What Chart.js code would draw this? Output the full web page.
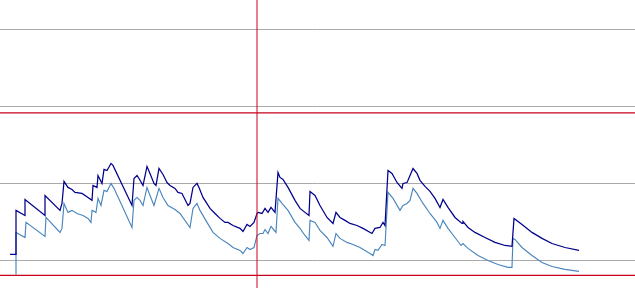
<!DOCTYPE html>
<html>
<head>
<meta charset="utf-8">
<script src="https://cdn.jsdelivr.net/npm/chart.js@4"></script>
<style>
	body { margin: 0; background: #fff; }
	#wrap { width: 635px; height: 288px; }
</style>
</head>
<body>
<div id="wrap"><canvas id="cntx_trace" width="635" height="288"></canvas></div>
<script>
// upper trace (dark blue)
const upper_t = [10,16,16,25,25,45,45,60,62,64,68,72,75,82,88,92,93,97,98,102,104,107,111,113,132,134,137,139,143,147,150,154,156,159,163,167,170,175,178,182,188,190,193,197,199,203,210,215,220,225,228,233,240,243,247,250,254,257,258,262,265,268,271,275,278,280,283,288,295,300,305,309,310,315,320,327,333,336,340,345,350,357,363,372,375,380,383,385,388,392,397,402,403,407,408,413,417,420,425,430,435,440,443,448,455,462,463,468,475,485,495,505,512,514,522,532,542,552,565,579];
const upper_v = [3.9,3.9,32.5,29.2,39.6,29.2,42.2,32.5,37.0,51.3,47.4,46.1,44.2,43.5,40.9,39.0,48.7,47.4,55.2,50.0,59.1,58.4,63.0,61.7,35.7,53.2,55.2,53.2,48.7,61.0,56.5,50.0,48.7,59.7,55.8,50.6,48.7,46.8,44.2,43.5,35.7,37.0,47.4,50.0,47.4,40.9,33.8,30.5,27.3,24.7,24.7,22.7,20.8,18.8,23.4,22.1,24.7,30.5,31.2,30.5,33.8,31.2,34.4,31.2,57.1,53.9,52.6,47.4,39.0,33.8,31.2,29.2,44.8,42.2,35.7,27.9,24.0,31.2,27.9,26.0,24.0,22.7,20.8,17.5,20.8,21.4,24.7,22.7,58.4,56.5,50.6,46.8,50.0,50.6,52.0,59.7,56.5,52.0,48.1,44.8,40.3,34.4,39.6,34.4,27.9,24.0,25.3,21.4,18.2,14.9,11.7,9.7,9.1,27.3,23.4,18.2,14.3,11.0,8.4,6.5];

// lower trace (light blue)
const lower_t = [16,16,25,26,45,46,60,62,64,68,72,77,83,88,91,92,96,98,101,104,107,111,114,132,134,137,140,143,147,150,154,159,163,168,175,180,190,193,197,200,207,213,220,228,233,240,243,247,250,254,257,260,263,265,268,271,276,278,282,288,295,300,305,309,310,315,320,327,333,336,340,347,353,360,370,373,375,378,382,385,387,388,393,400,403,407,410,413,417,423,430,437,440,443,448,455,461,463,468,478,488,498,508,512,513,515,522,532,542,552,565,579];
const lower_v = [-9.1,18.2,14.9,24.7,15.6,27.9,18.2,20.8,37.0,31.2,32.5,30.5,29.2,27.3,24.7,32.5,31.2,40.3,35.7,45.5,44.8,50.0,46.8,21.4,39.0,40.9,39.0,35.7,47.4,42.2,35.7,46.8,40.9,35.7,33.1,30.5,21.4,33.8,37.0,32.5,24.7,18.2,14.3,11.0,8.4,6.5,4.5,8.4,7.1,8.4,16.2,17.5,17.5,20.1,17.5,22.1,18.2,40.3,37.0,32.5,24.7,20.8,16.2,13.0,26.0,24.7,19.5,14.9,9.1,17.5,14.3,11.7,10.4,8.4,4.5,3.2,7.1,6.5,10.4,9.7,32.5,44.2,40.3,32.5,35.7,37.0,39.0,46.8,43.5,37.0,30.5,24.7,20.8,26.0,20.8,14.9,9.7,11.0,7.8,3.2,0.0,-2.6,-4.5,-4.5,14.3,13.6,8.4,3.2,-1.3,-3.9,-5.8,-7.1];

// reference markers
const limit_high = 95.8;
const limit_low = -9.7;
const cursor_t = 257;
const y_ticks = [0, 50, 100, 150];
const y_min = -17.9;
const y_max = 169.1;
const t_min = 0;
const t_max = 635;

toPoints = (xs, ys) => xs.map((x, i) => ({ x: x, y: ys[i] }));

const red = "#c8001e";

drawChart = (canvas) => {
	const myChart = new Chart(canvas, {
		type: "line",
		data: {
			datasets: [
				{
					label: "cursor",
					data: [{ x: cursor_t, y: y_min }, { x: cursor_t, y: y_max }],
					borderColor: red,
					borderWidth: 1,
				},
				{
					label: "high",
					data: [{ x: t_min, y: limit_high }, { x: t_max, y: limit_high }],
					borderColor: red,
					borderWidth: 1.2,
				},
				{
					label: "low",
					data: [{ x: t_min, y: limit_low }, { x: t_max, y: limit_low }],
					borderColor: red,
					borderWidth: 1.2,
				},
				{
					label: "upper",
					data: toPoints(upper_t, upper_v),
					borderColor: "#00008c",
					borderWidth: 1.25,
				},
				{
					label: "lower",
					data: toPoints(lower_t, lower_v),
					borderColor: "#4a86bd",
					borderWidth: 1.15,
				},
			],
		},
		options: {
			responsive: false,
			animation: false,
			layout: { padding: 0 },
			elements: {
				point: { radius: 0 },
				line: { tension: 0, fill: false },
			},
			plugins: {
				legend: { display: false },
				tooltip: { enabled: false },
			},
			scales: {
				x: {
					type: "linear",
					min: t_min,
					max: t_max,
					display: false,
				},
				y: {
					min: y_min,
					max: y_max,
					afterBuildTicks: (axis) => {
						axis.ticks = y_ticks.map((v) => ({ value: v }));
					},
					ticks: { display: false },
					border: { display: false },
					grid: { color: "#aaaaaa", lineWidth: 1, drawTicks: false },
				},
			},
		},
	});
};

drawChart(document.querySelector("#cntx_trace"));
</script>
</body>
</html>
